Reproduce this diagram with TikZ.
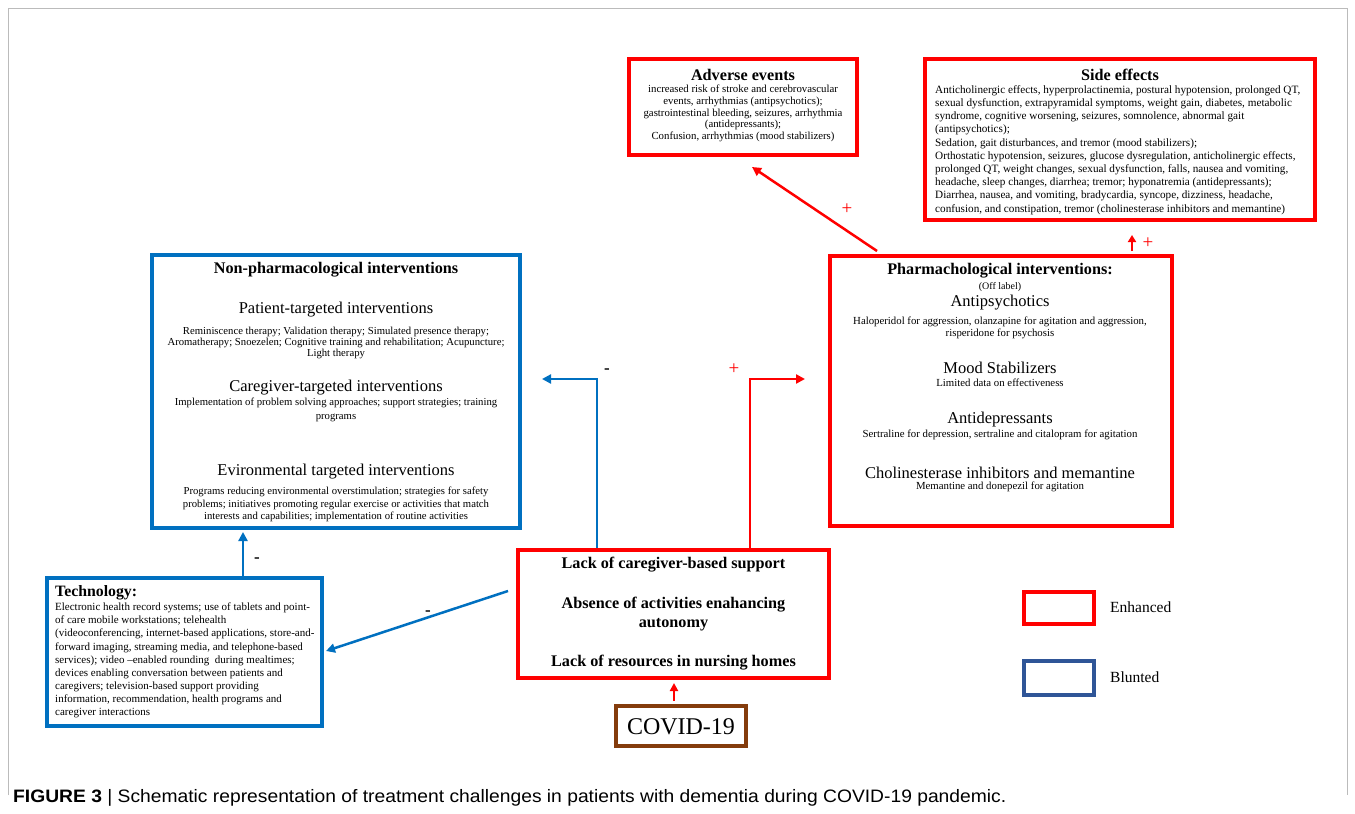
\documentclass[tikz,border=0pt]{standalone}
\usepackage{fontspec}
\setmainfont{Liberation Serif}
\newfontfamily\capfont{Liberation Sans}
\usetikzlibrary{arrows.meta}
\definecolor{rd}{HTML}{FF0000}
\definecolor{bl}{HTML}{0070C0}
\definecolor{dbl}{HTML}{2F5597}
\definecolor{brn}{HTML}{843C0C}
\definecolor{frm}{HTML}{BBBBBB}
\newcommand{\fs}[2]{\fontsize{#1}{#2}\selectfont}
\begin{document}
\begin{tikzpicture}[x=1pt,y=-1pt,
  box/.style={draw,line width=4pt,inner sep=0pt},
  redbox/.style={box,draw=rd},
  bluebox/.style={box,draw=bl},
  txt/.style={inner sep=0pt,align=center},
  ltxt/.style={inner sep=0pt,align=left,anchor=west},
  ttl/.style={txt,font=\fs{16.2}{18.5}\bfseries},
  sub/.style={txt,font=\fs{16.5}{19}},
  sml/.style={txt,font=\fs{10.7}{12}},
  arr/.style={line width=2.5pt,-{Triangle[length=9pt,width=9pt]}},
  redarr/.style={arr,draw=rd},
  bluearr/.style={arr,draw=bl},
  plus/.style={inner sep=0pt,text=rd,font=\fs{19}{20}},
  minus/.style={inner sep=0pt,font=\fs{17}{18}\bfseries}]
\useasboundingbox (0,0) rectangle (1355,814);
\fill[white] (0,0) rectangle (1355,814);
\draw[frm,line width=1pt] (8,795) -- (8,8) -- (1347,8) -- (1347,795);

% boxes
\node[redbox,minimum width=228pt,minimum height=96pt] (adv) at (743,107) {};
\node[redbox,minimum width=390pt,minimum height=161pt] (side) at (1120,139.5) {};
\node[bluebox,minimum width=368pt,minimum height=273pt] (nonph) at (336,391.5) {};
\node[redbox,minimum width=342pt,minimum height=270pt] (pharm) at (1001,391) {};
\node[bluebox,minimum width=275pt,minimum height=148pt] (tech) at (184.5,652) {};
\node[redbox,minimum width=311pt,minimum height=128pt] (ctr) at (673.5,614) {};
\node[box,draw=brn,minimum width=130pt,minimum height=40pt] (covid) at (681,726) {};
\node[redbox,minimum width=70pt,minimum height=32pt] (lgr) at (1059,608) {};
\node[box,draw=dbl,minimum width=70pt,minimum height=34pt] (lgb) at (1059,678) {};

% adverse events
\node[ttl] (advt) at (743,75) {Adverse events};
\node[txt,font=\fs{10.8}{11.8}] (advx) at (743,113.5) {increased risk of stroke and cerebrovascular\\
events, arrhythmias (antipsychotics);\\
gastrointestinal bleeding, seizures, arrhythmia\\
(antidepressants);\\
Confusion, arrhythmias (mood stabilizers)};

% side effects
\node[ttl] (sidet) at (1120,75) {Side effects};
\node[ltxt,font=\fs{11.2}{13.2}] (sidex) at (935,150) {Anticholinergic effects, hyperprolactinemia, postural hypotension, prolonged QT,\\
sexual dysfunction, extrapyramidal symptoms, weight gain, diabetes, metabolic\\
syndrome, cognitive worsening, seizures, somnolence, abnormal gait\\
(antipsychotics);\\
Sedation, gait disturbances, and tremor (mood stabilizers);\\
Orthostatic hypotension, seizures, glucose dysregulation, anticholinergic effects,\\
prolonged QT, weight changes, sexual dysfunction, falls, nausea and vomiting,\\
headache, sleep changes, diarrhea; tremor; hyponatremia (antidepressants);\\
Diarrhea, nausea, and vomiting, bradycardia, syncope, dizziness, headache,\\
confusion, and constipation, tremor (cholinesterase inhibitors and memantine)};

% non-pharmacological
\node[ttl] (npt) at (336,270) {Non-pharmacological interventions};
\node[sub] (np1) at (336,310) {Patient-targeted interventions};
\node[sml,font=\fs{10.7}{11}] (np1x) at (336,342.5) {Reminiscence therapy; Validation therapy; Simulated presence therapy;\\
Aromatherapy; Snoezelen; Cognitive training and rehabilitation; Acupuncture;\\
Light therapy};
\node[sub] (np2) at (336,388) {Caregiver-targeted interventions};
\node[sml,font=\fs{10.7}{13.5}] (np2x) at (336,410) {Implementation of problem solving approaches; support strategies; training\\
programs};
\node[sub] (np3) at (336,472) {Evironmental targeted interventions};
\node[sml,font=\fs{10.7}{12.5}] (np3x) at (336,504.5) {Programs reducing environmental overstimulation; strategies for safety\\
problems; initiatives promoting regular exercise or activities that match\\
interests and capabilities; implementation of routine activities};

% pharmacological
\node[ttl] (pht) at (1000,271) {Pharmachological interventions:};
\node[txt,font=\fs{10}{11}] (phol) at (1000,287) {(Off label)};
\node[sub] (ph1) at (1000,303) {Antipsychotics};
\node[sml,font=\fs{10.8}{11.8}] (ph1x) at (1000,327.5) {Haloperidol for aggression, olanzapine for agitation and aggression,\\
risperidone for psychosis};
\node[sub] (ph2) at (1000,368) {Mood Stabilizers};
\node[sml,font=\fs{10.8}{11.8}] (ph2x) at (1000,383) {Limited data on effectiveness};
\node[sub] (ph3) at (1000,420) {Antidepressants};
\node[sml,font=\fs{10.8}{11.8}] (ph3x) at (1000,435) {Sertraline for depression, sertraline and citalopram for agitation};
\node[sub] (ph4) at (1000,473) {Cholinesterase inhibitors and memantine};
\node[sml,font=\fs{10.8}{11.8}] (ph4x) at (1000,487) {Memantine and donepezil for agitation};

% technology
\node[ltxt,font=\fs{15.8}{17}\bfseries] (techt) at (55,593) {Technology:};
\node[ltxt,font=\fs{11}{13.1}] (techx) at (55,660.5) {Electronic health record systems; use of tablets and point-\\
of care mobile workstations; telehealth\\
(videoconferencing, internet-based applications, store-and-\\
forward imaging, streaming media, and telephone-based\\
services); video –enabled rounding\ \ during mealtimes;\\
devices enabling conversation between patients and\\
caregivers; television-based support providing\\
information, recommendation, health programs and\\
caregiver interactions};

% center
\node[ttl] (c1) at (673.5,565) {Lack of caregiver-based support};
\node[ttl] (c2) at (673.5,614) {Absence of activities enahancing\\autonomy};
\node[ttl] (c3) at (673.5,663) {Lack of resources in nursing homes};

% covid
\node[txt,font=\fs{24}{26}] (covt) at (681,727) {COVID-19};

% legend
\node[ltxt,font=\fs{15.5}{18}] (lgrt) at (1110,607) {Enhanced};
\node[ltxt,font=\fs{15.5}{18}] (lgbt) at (1110,677) {Blunted};

% connectors
\coordinate (b1) at (597,379);
\coordinate (b1t) at (542,379);
\draw[bluearr] (b1 |- ctr.north) -- (b1) -- (b1t);
\node[minus] at (607,371) {-};

\coordinate (r1) at (750,379);
\coordinate (r1t) at (805,379);
\draw[redarr] (r1 |- ctr.north) -- (r1) -- (r1t);
\node[plus] at (734,369) {+};

\coordinate (r2s) at (877,251);
\coordinate (r2t) at (752,167);
\draw[redarr] (r2s) -- (r2t);
\node[plus] at (847,209) {+};

\coordinate (r3s) at (1132,251);
\coordinate (r3t) at (1132,235);
\draw[redarr,line width=2.2pt,-{Triangle[length=7pt,width=8pt]}] (r3s) -- (r3t);
\node[plus] at (1148,243) {+};

\coordinate (r4) at (674,683);
\draw[redarr,-{Triangle[length=8pt,width=8pt]}] (r4 |- covid.north) ++(0,-3) -- (r4);

\coordinate (b2) at (243,532);
\draw[bluearr] (b2 |- tech.north) -- (b2);
\node[minus] at (257,560) {-};

\coordinate (b3s) at (508,591);
\coordinate (b3t) at (326,651);
\draw[bluearr] (b3s) -- (b3t);
\node[minus] at (428,613) {-};

% caption
\node[ltxt,font=\capfont\fs{18}{20}] (cap) at (13,798) {\scalebox{1.07}[1]{\textbf{FIGURE 3} | Schematic representation of treatment challenges in patients with dementia during COVID-19 pandemic.}};
\end{tikzpicture}
\end{document}
